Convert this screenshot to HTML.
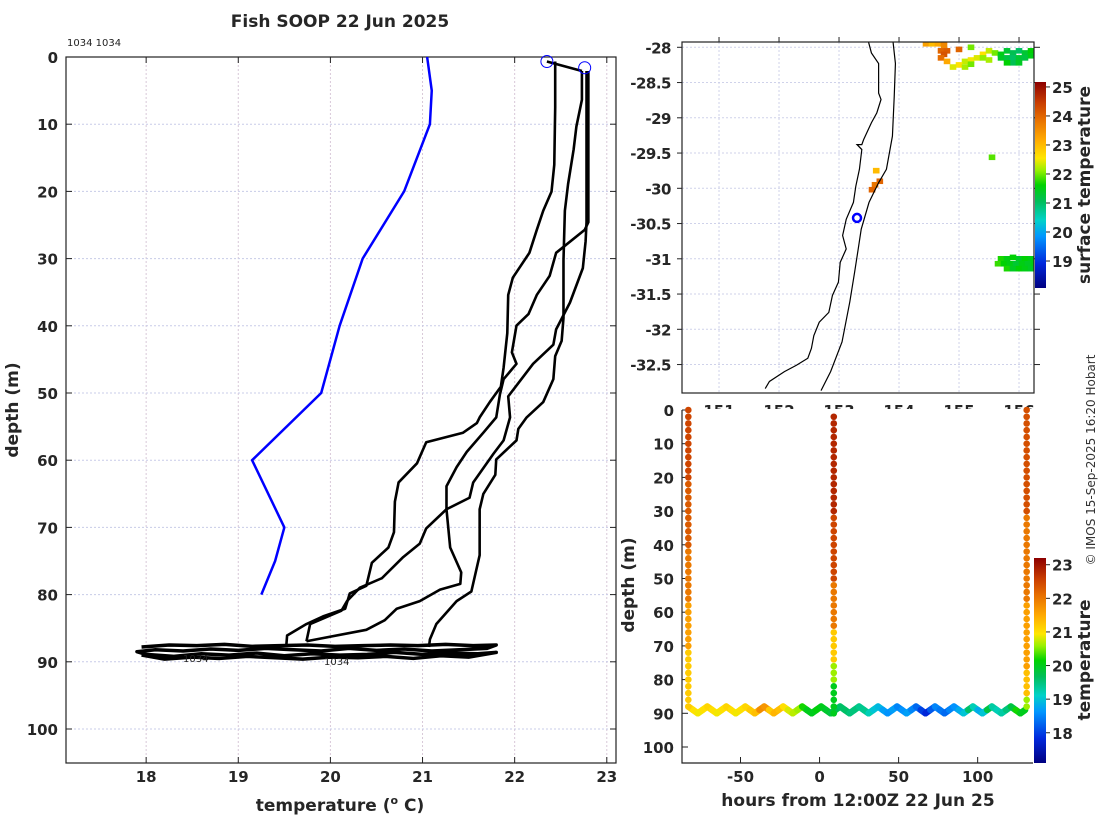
<!DOCTYPE html>
<html><head><meta charset="utf-8"><style>
html,body{margin:0;padding:0;background:#fff;}
svg{display:block;font-family:"DejaVu Sans","Liberation Sans",sans-serif;}
.tk{font-size:15px;font-weight:bold;fill:#262626;}
.lb{font-size:17px;font-weight:bold;fill:#262626;}
</style></head><body>
<svg id="fig" xmlns="http://www.w3.org/2000/svg" width="1100" height="820" viewBox="0 0 1100 820">
<defs>
<linearGradient id="cm" x1="0" y1="1" x2="0" y2="0">
<stop offset="0" stop-color="rgb(0,0,128)"/><stop offset="0.12" stop-color="rgb(0,40,220)"/><stop offset="0.25" stop-color="rgb(0,150,255)"/><stop offset="0.33" stop-color="rgb(0,210,200)"/><stop offset="0.42" stop-color="rgb(0,190,90)"/><stop offset="0.5" stop-color="rgb(0,210,0)"/><stop offset="0.57" stop-color="rgb(150,240,0)"/><stop offset="0.63" stop-color="rgb(255,230,0)"/><stop offset="0.72" stop-color="rgb(255,170,0)"/><stop offset="0.82" stop-color="rgb(230,110,0)"/><stop offset="0.9" stop-color="rgb(200,60,0)"/><stop offset="1" stop-color="rgb(140,0,0)"/>
</linearGradient>
<clipPath id="clipMap"><rect x="682" y="42" width="352" height="351"/></clipPath>
</defs>
<g id="left"></g>
<g id="map"></g>
<g id="sect"></g>
<text x="340" y="27" text-anchor="middle" class="lb">Fish SOOP 22 Jun 2025</text>
<text x="67" y="46" font-size="10" fill="#222">1034 1034</text>
<text x="340" y="811" text-anchor="middle" class="lb">temperature (<tspan font-size="11" dy="-7">o</tspan><tspan dy="7"> C)</tspan></text>
<text transform="translate(18,410) rotate(-90)" text-anchor="middle" class="lb">depth (m)</text>
<text transform="translate(1090,185) rotate(-90)" text-anchor="middle" class="lb" font-size="16">surface temperature</text>
<text transform="translate(1090,660) rotate(-90)" text-anchor="middle" class="lb" font-size="16">temperature</text>
<text transform="translate(1095,460) rotate(-90)" text-anchor="middle" font-size="12" fill="#333">© IMOS 15-Sep-2025 16:20 Hobart</text>
<text transform="translate(634,585) rotate(-90)" text-anchor="middle" class="lb">depth (m)</text>
<text x="858" y="806" text-anchor="middle" class="lb">hours from 12:00Z 22 Jun 25</text>
</svg>
<script>
// ---------- data: left profile panel ----------
const xTicks=[18,19,20,21,22,23];
const yTicks=[0,10,20,30,40,50,60,70,80,90,100];
const climT=[21.05,21.1,21.08,20.8,20.35,20.1,19.9,19.15,19.5,19.4,19.25];
const climD=[0,5,10,20,30,40,50,60,70,75,80];
const c1T=[22.44,22.44,22.43,22.40,22.31,22.24,22.16,21.98,21.93,21.92,21.88,21.85,21.73,21.62,21.59,21.44,21.04,20.94,20.74,20.70,20.69,20.63,20.45,20.39,20.21,20.16,19.92,19.74,19.53,19.52];
const c1D=[0.67,7.5,16.04,20.03,22.88,25.73,29.14,32.84,35.41,41.1,46.23,49.07,51.35,53.63,54.48,55.91,57.33,60.46,63.31,66.16,70.71,72.99,75.27,78.69,79.83,82.1,83.24,84.38,86.09,87.8];
const c2T=[22.73,22.73,22.67,22.64,22.58,22.545,22.53,22.53,22.51,22.44,22.42,22.31,22.13,22.04,22.02,21.80,21.79,21.66,21.62,21.62,21.53,21.37,21.15,21.08,21.07];
const c2D=[2.09,6.36,10.35,13.77,18.9,22.88,30.28,38.82,42.24,44.52,47.94,51.35,53.63,55.34,57.05,59.89,62.17,65.02,67.3,74.13,79.54,80.97,84.38,86.66,87.8];
const c3T=[22.80,22.80,22.80,22.76,22.45,22.38,22.24,22.15,22.02,21.97,22.02,21.88,21.84,21.80,21.66,21.48,21.37,21.26,21.26,21.30,21.42,21.41,21.19,20.97,20.72,20.59,20.39,19.74];
const c3D=[2.09,10.35,24.59,25.73,29.14,32.56,35.41,38.26,39.96,43.95,45.66,47.94,50.21,53.63,55.91,58.76,61.03,63.88,67.3,72.99,76.69,78.4,79.26,80.97,82.1,83.81,85.24,86.94];
const c4T=[22.78,22.78,22.77,22.74,22.60,22.45,22.42,22.20,21.93,21.95,21.88,21.77,21.55,21.51,21.26,21.04,20.97,20.79,20.56,20.32,20.18,20.12,19.78,19.74];
const c4D=[2.09,24.59,27.43,31.42,36.55,40.53,42.81,45.66,50.5,53.63,57.05,59.04,63.31,65.59,67.3,70.15,72.42,74.42,77.55,78.97,80.97,82.39,84.38,86.94];
const linkT=[22.35,22.73];
const linkD=[0.67,2.09];
const towT=[17.95,18.25,18.55,18.85,19.15,19.45,19.75,20.05,20.35,20.65,20.95,21.25,21.55,21.8,
 21.7,21.4,21.1,20.8,20.5,20.2,19.9,19.6,19.3,19.0,18.7,18.4,18.1,17.9,
 18.0,18.3,18.6,18.9,19.2,19.5,19.8,20.1,20.4,20.7,21.0,21.3,21.6,21.8,
 21.5,21.2,20.9,20.6,20.3,20.0,19.7,19.4,19.1,18.8,18.5,18.2,17.95];
const towD=[87.8,87.5,87.6,87.4,87.7,87.6,87.5,87.7,87.6,87.5,87.6,87.4,87.6,87.5,
 88.0,88.2,88.4,88.1,88.3,88.0,88.4,88.2,88.0,88.3,88.1,88.4,88.2,88.5,
 88.9,89.2,88.8,89.0,88.7,89.1,88.8,89.0,88.9,88.6,88.9,88.7,88.8,88.6,
 89.3,89.1,89.5,89.2,89.4,89.3,89.6,89.4,89.2,89.5,89.3,89.6,89.0];
const startT=[22.35,22.76];
const startD=[0.67,1.6];

// ---------- data: map ----------
const latTicks=[-28,-28.5,-29,-29.5,-30,-30.5,-31,-31.5,-32,-32.5];
const latLabels=["-28","-28.5","-29","-29.5","-30","-30.5","-31","-31.5","-32","-32.5"];
const lonTicks=[151,152,153,154,155,156];
const coastLon=[153.49,153.54,153.66,153.66,153.70,153.63,153.54,153.41,153.38,153.30,153.38,153.34,153.28,153.24,153.12,153.06,153.12,153.02,152.99,152.89,152.83,152.67,152.58,152.54,152.48,152.29,152.09,151.84,151.77];
const coastLat=[-27.92,-28.08,-28.23,-28.65,-28.74,-28.93,-29.07,-29.31,-29.38,-29.38,-29.45,-29.73,-29.97,-30.20,-30.44,-30.67,-30.86,-31.05,-31.33,-31.52,-31.76,-31.90,-32.09,-32.27,-32.41,-32.51,-32.60,-32.74,-32.84];
const shelfLon=[153.90,153.94,153.92,153.89,153.79,153.66,153.50,153.37,153.32,153.26,153.18,153.05,152.86,152.70];
const shelfLat=[-27.92,-28.23,-28.70,-29.26,-29.73,-29.92,-30.20,-30.58,-30.86,-31.19,-31.61,-32.18,-32.60,-32.87];
const vesselLon=[153.30];
const vesselLat=[-30.42];
const sstLon=[154.45,154.55,154.65,154.75,154.7,154.8,154.75,154.7,154.8,155.0,155.2,
 155.4,155.5,155.6,155.7,155.8,155.9,156.0,156.1,156.2,155.7,155.8,155.9,156.0,156.1,156.2,155.9,155.8,156.0,
 155.1,155.2,155.3,155.0,155.1,154.9,155.2,155.4,155.5,
 155.55,153.62,153.68,153.6,153.55,
 155.7,155.8,155.9,156.0,156.1,156.2,155.65,155.75,155.85,155.95,156.05,156.15,156.25,155.8,155.9,156.0,156.1,156.2];
const sstLat=[-27.95,-27.95,-27.95,-27.97,-28.05,-28.05,-28.1,-28.15,-28.2,-28.03,-28.0,
 -28.1,-28.05,-28.08,-28.1,-28.05,-28.08,-28.05,-28.08,-28.05,-28.15,-28.15,-28.15,-28.15,-28.15,-28.12,-28.22,-28.22,-28.22,
 -28.2,-28.18,-28.15,-28.25,-28.28,-28.28,-28.24,-28.15,-28.18,
 -29.56,-29.75,-29.9,-29.95,-30.02,
 -31.0,-31.0,-30.98,-31.0,-31.0,-31.0,-31.07,-31.07,-31.07,-31.07,-31.07,-31.07,-31.07,-31.14,-31.14,-31.14,-31.14,-31.14];
const sstVal=[23.3,23.0,23.2,23.6,24.0,24.1,24.2,23.9,23.2,24.0,22.0,
 22.6,22.3,22.0,21.5,21.3,21.1,21.0,21.3,21.6,21.4,21.2,21.0,21.3,21.2,21.5,21.1,21.6,21.4,
 22.3,22.5,22.4,22.6,22.2,22.4,22.0,22.1,22.2,
 21.9,23.0,24.0,23.8,24.0,
 21.7,21.5,21.6,21.4,21.6,21.5,21.8,21.6,21.5,21.3,21.5,21.4,21.5,21.7,21.4,21.6,21.5,21.4];
const sstCbTicks=[19,20,21,22,23,24,25];

// ---------- data: section ----------
const hTicks=[-50,0,50,100];
const sdTicks=[0,10,20,30,40,50,60,70,80,90,100];
const secCbTicks=[18,19,20,21,22,23];
const profHours=[-83,9,131];
const profADepth=[0,2,4,6,8,10,12,14,16,18,20,22,24,26,28,30,32,34,36,38,40,42,44,46,48,50,52,54,56,58,60,62,64,66,68,70,72,74,76,78,80,82,84,86,88];
const profATemp=[22.5,22.5,22.5,22.5,22.5,22.5,22.5,22.5,22.5,22.5,22.5,22.3,22.3,22.3,22.3,22.3,22.3,22.3,22.3,22.3,22.3,22.0,22.0,22.0,22.0,22.0,22.0,22.0,22.0,21.6,21.6,21.6,21.6,21.6,21.6,21.6,21.2,21.2,21.2,21.2,21.2,21.2,21.2,21.2,21.2];
const profBDepth=[2,4,6,8,10,12,14,16,18,20,22,24,26,28,30,32,34,36,38,40,42,44,46,48,50,52,54,56,58,60,62,64,66,68,70,72,74,76,78,80,82,84,86,88,90];
const profBTemp=[22.8,22.8,22.8,22.8,22.8,22.8,22.8,22.8,22.8,22.8,22.8,22.8,22.8,22.8,22.8,22.5,22.5,22.5,22.5,22.5,22.5,22.5,22.5,22.5,22.5,22.0,22.0,22.0,22.0,22.0,22.0,22.0,21.2,21.2,21.2,21.2,21.2,20.6,20.6,20.6,20.0,20.0,20.0,20.0,20.0];
const profCDepth=[0,2,4,6,8,10,12,14,16,18,20,22,24,26,28,30,32,34,36,38,40,42,44,46,48,50,52,54,56,58,60,62,64,66,68,70,72,74,76,78,80,82,84,86,88];
const profCTemp=[22.4,22.4,22.4,22.4,22.4,22.4,22.4,22.4,22.4,22.4,22.4,22.4,22.4,22.4,22.4,22.4,22.0,22.0,22.0,22.0,22.0,22.0,22.0,22.0,22.0,22.0,22.0,22.0,22.0,21.6,21.6,21.6,21.6,21.6,21.6,21.6,21.6,21.6,21.6,21.3,21.3,21.3,21.3,20.6,20.6];
const towHours=[-83,-80,-77,-74,-71,-68,-65,-62,-59,-56,-53,-50,-47,-44,-41,-38,-35,-32,-29,-26,-23,-20,-17,-14,-11,-8,-5,-2,1,4,7,10,13,16,19,22,25,28,31,34,37,40,43,46,49,52,55,58,61,64,67,70,73,76,79,82,85,88,91,94,97,100,103,106,109,112,115,118,121,124,127,130];
const towDepth=[88,89,90,89,88,89,90,89,88,89,90,89,88,89,90,89,88,89,90,89,88,89,90,89,88,89,90,89,88,89,90,89,88,89,90,89,88,89,90,89,88,89,90,89,88,89,90,89,88,89,90,89,88,89,90,89,88,89,90,89,88,89,90,89,88,89,90,89,88,89,90,89];
const towTemp=[21.0,21.1,21.0,20.9,21.0,21.1,21.0,20.9,21.0,21.1,21.0,20.9,21.0,21.1,21.2,21.3,21.8,21.7,21.2,21.4,21.3,21.0,20.8,20.7,20.6,20.2,20.0,20.0,20.1,20.0,19.9,19.8,19.7,19.6,19.6,19.5,19.5,19.4,19.4,19.2,19.0,18.9,18.7,18.6,18.7,18.5,18.6,18.7,18.5,18.3,18.0,17.8,18.2,18.5,18.4,18.3,18.5,18.6,18.8,19.0,19.6,19.2,18.8,19.0,19.8,19.3,19.2,19.3,19.5,19.8,20.2,20.0];

const NS='http://www.w3.org/2000/svg';
function mk(parent,tag,attrs,txt){const e=document.createElementNS(NS,tag);for(const k in attrs)e.setAttribute(k,attrs[k]);if(txt!==undefined)e.textContent=txt;parent.appendChild(e);return e;}
const CMS=[[0,0,0,128],[0.12,0,40,220],[0.25,0,150,255],[0.33,0,210,200],[0.42,0,190,90],[0.5,0,210,0],[0.57,150,240,0],[0.63,255,230,0],[0.72,255,170,0],[0.82,230,110,0],[0.9,200,60,0],[1,140,0,0]];
function cmap(v,lo,hi){let x=(v-lo)/(hi-lo);x=Math.max(0,Math.min(1,x));
 for(let i=1;i<CMS.length;i++){if(x<=CMS[i][0]){const a=CMS[i-1],b=CMS[i],f=(x-a[0])/(b[0]-a[0]);
  return 'rgb('+[1,2,3].map(k=>Math.round(a[k]+(b[k]-a[k])*f)).join(',')+')';}}
 return 'rgb(140,0,0)';}

// ---------- left panel ----------
const L=document.getElementById('left');
const xL=t=>66+(t-17.13)*(550/(23.1-17.13));
const yL=d=>57+d*6.72;
for(const t of xTicks){
 const g=mk(L,'line',{x1:xL(t),x2:xL(t),y1:57,y2:763,stroke:'#d8c8d8','stroke-dasharray':'2,2'});
 
 
 mk(L,'line',{x1:xL(t),x2:xL(t),y1:57,y2:63,stroke:'#222'});
 mk(L,'line',{x1:xL(t),x2:xL(t),y1:763,y2:757,stroke:'#222'});
 const tx=mk(L,'text',{x:xL(t),y:782,'text-anchor':'middle',class:'tk'},String(t));
 
 
}
for(const d of yTicks){
 const g=mk(L,'line',{x1:66,x2:616,y1:yL(d),y2:yL(d),stroke:'#c8cce8','stroke-dasharray':'2,2'});
 
 
 mk(L,'line',{x1:66,x2:72,y1:yL(d),y2:yL(d),stroke:'#222'});
 mk(L,'line',{x1:616,x2:610,y1:yL(d),y2:yL(d),stroke:'#222'});
 const tx=mk(L,'text',{x:58,y:yL(d)+6,'text-anchor':'end',class:'tk'},String(d));
 
 
}
mk(L,'rect',{x:66,y:57,width:550,height:706,fill:'none',stroke:'#222','stroke-width':1.2});
function pl(T,D,col,w,name){const p=mk(L,'polyline',{points:T.map((t,i)=>xL(t)+','+yL(D[i])).join(' '),fill:'none',stroke:col,'stroke-width':w,'stroke-linejoin':'round'});
 
 }
pl(climT,climD,'#0000ff',2.5,'climatology-line');
pl(c1T,c1D,'#000',2.6,'profile-line-1');
pl(c2T,c2D,'#000',2.6,'profile-line-2');
pl(c3T,c3D,'#000',2.6,'profile-line-3');
pl(c4T,c4D,'#000',2.6,'profile-line-4');
pl(linkT,linkD,'#000',2.6,'transit-line');
pl(towT,towD,'#000',3.5,'tow-trace');
for(let i=0;i<startT.length;i++){
 const c=mk(L,'circle',{cx:xL(startT[i]),cy:yL(startD[i]),r:6,fill:'none',stroke:'#0000ff','stroke-width':1});
 
 
}
const id1=mk(L,'text',{x:183,y:662,'font-size':10,fill:'#222'},'1034');


const id2=mk(L,'text',{x:324,y:665,'font-size':10,fill:'#222'},'1034');



// ---------- map ----------
const M=document.getElementById('map');
const xM=lo=>682+(lo-150.383)*60;
const yM=la=>47.3+(-28-la)*70.5;
for(const lo of lonTicks){mk(M,'line',{x1:xM(lo),x2:xM(lo),y1:42,y2:393,stroke:'#cfd2ea','stroke-dasharray':'2,2'});
 mk(M,'line',{x1:xM(lo),x2:xM(lo),y1:42,y2:37,stroke:'#222'});}
latTicks.forEach((la,i)=>{mk(M,'line',{x1:682,x2:1034,y1:yM(la),y2:yM(la),stroke:'#cfd2ea','stroke-dasharray':'2,2'});
 mk(M,'line',{x1:677,x2:682,y1:yM(la),y2:yM(la),stroke:'#222'});
 mk(M,'line',{x1:1034,x2:1040,y1:yM(la),y2:yM(la),stroke:'#222'});
 const tx=mk(M,'text',{x:671,y:yM(la)+6,'text-anchor':'end',class:'tk','letter-spacing':'-0.5'},latLabels[i]);
 
 });
const mg=mk(M,'g',{'clip-path':'url(#clipMap)'});
for(let i=0;i<sstLon.length;i++){
 const r=mk(mg,'rect',{x:xM(sstLon[i])-3.3,y:yM(sstLat[i])-2.8,width:6.6,height:5.6,fill:cmap(sstVal[i],18.07,25.17)});
 
 
}
const cst=mk(mg,'polyline',{points:coastLon.map((lo,i)=>xM(lo)+','+yM(coastLat[i])).join(' '),fill:'none',stroke:'#000','stroke-width':1.2});


const shf=mk(mg,'polyline',{points:shelfLon.map((lo,i)=>xM(lo)+','+yM(shelfLat[i])).join(' '),fill:'none',stroke:'#000','stroke-width':1.2});


const ves=mk(mg,'circle',{cx:xM(vesselLon[0]),cy:yM(vesselLat[0]),r:4,fill:'none',stroke:'#0000ff','stroke-width':2.5});


mk(M,'rect',{x:682,y:42,width:352,height:351,fill:'none',stroke:'#222','stroke-width':1.2});
for(const lo of lonTicks){const tx=mk(M,'text',{x:xM(lo),y:416,'text-anchor':'middle',class:'tk'},String(lo));
 
 }
const cb1=mk(M,'rect',{x:1035,y:82,width:11,height:206,fill:'url(#cm)'});


const yCb1=v=>82+(25.17-v)*(206/(25.17-18.07));
for(const v of sstCbTicks){mk(M,'line',{x1:1046,x2:1050,y1:yCb1(v),y2:yCb1(v),stroke:'#222'});
 const tx=mk(M,'text',{x:1052,y:yCb1(v)+6,class:'tk'},String(v));
 
 }

// ---------- section ----------
const S=document.getElementById('sect');
mk(S,'rect',{x:682,y:409,width:360,height:360,fill:'#fff'});
const xS=h=>682+(h+87)*(351/222);
const yS=d=>410+d*3.37;
for(const h of hTicks){mk(S,'line',{x1:xS(h),x2:xS(h),y1:763,y2:757,stroke:'#222'});
 const tx=mk(S,'text',{x:xS(h),y:782,'text-anchor':'middle',class:'tk'},String(h));
 
 }
for(const d of sdTicks){mk(S,'line',{x1:682,x2:688,y1:yS(d),y2:yS(d),stroke:'#222'});
 const tx=mk(S,'text',{x:674,y:yS(d)+6,'text-anchor':'end',class:'tk'},String(d));
 
 }
for(let i=1;i<towHours.length;i++){
 const s=mk(S,'line',{x1:xS(towHours[i-1]),y1:yS(towDepth[i-1]),x2:xS(towHours[i]),y2:yS(towDepth[i]),stroke:cmap(towTemp[i],17.1,23.2),'stroke-width':6.5,'stroke-linecap':'round'});
 
 
}
function dots(hArr,dArr,tArr,name){for(let i=0;i<dArr.length;i++){
 const c=mk(S,'circle',{cx:xS(hArr[i]),cy:yS(dArr[i]),r:3.3,fill:cmap(tArr[i],17.1,23.2)});
 
 }}
dots(profADepth.map(()=>profHours[0]),profADepth,profATemp,'profile-a-dot');
dots(profBDepth.map(()=>profHours[1]),profBDepth,profBTemp,'profile-b-dot');
dots(profCDepth.map(()=>profHours[2]),profCDepth,profCTemp,'profile-c-dot');
mk(S,'polyline',{points:'682,410 682,763 1033,763',fill:'none',stroke:'#222','stroke-width':1.2});
const cb2=mk(S,'rect',{x:1034,y:558,width:12,height:205,fill:'url(#cm)'});


const yCb2=v=>558+(23.2-v)*(205/(23.2-17.1));
for(const v of secCbTicks){mk(S,'line',{x1:1046,x2:1050,y1:yCb2(v),y2:yCb2(v),stroke:'#222'});
 const tx=mk(S,'text',{x:1052,y:yCb2(v)+6,class:'tk'},String(v));
 
 }
</script>
</body></html>
